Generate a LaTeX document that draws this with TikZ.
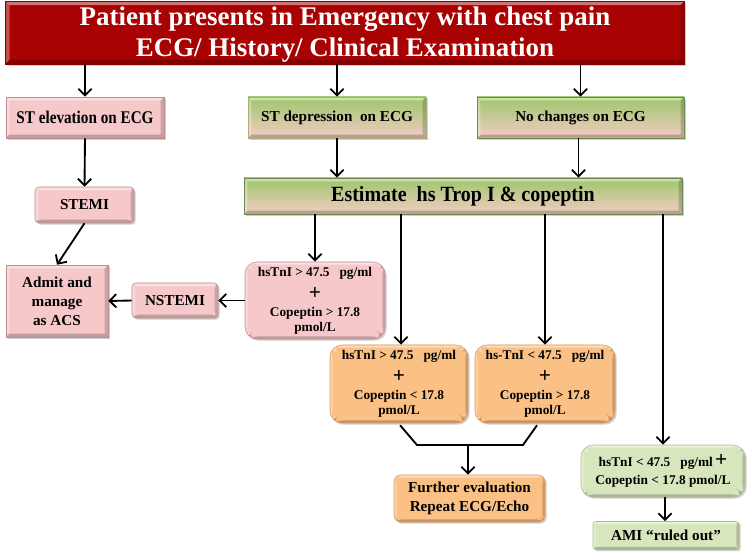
\documentclass[tikz,border=0pt]{standalone}
\usepackage{fontspec}
\setmainfont{Liberation Serif}
\newfontfamily\myNarrowA[FakeStretch=0.85]{Liberation Serif}
\newfontfamily\myNarrowB[FakeStretch=0.92]{Liberation Serif}
\usetikzlibrary{arrows.meta,shadows}
\definecolor{titlered}{RGB}{168,2,2}
\definecolor{pinkf}{RGB}{246,200,202}
\definecolor{pinkdark}{RGB}{190,140,142}
\definecolor{greent}{RGB}{158,198,108}
\definecolor{greenmid}{RGB}{205,212,160}
\definecolor{greenb}{RGB}{244,204,196}
\definecolor{orangef}{RGB}{250,192,132}
\definecolor{orangedark}{RGB}{222,150,86}
\definecolor{lgreen}{RGB}{216,230,190}
\definecolor{lgreendark}{RGB}{170,190,140}
\newcommand\myBoxFont{\fontsize{11.4}{14.2}\selectfont\bfseries}
\newcommand\myLabFont{\fontsize{10}{12.5}\selectfont\bfseries}
\newcommand\myPlus{{\fontsize{16}{16}\selectfont +}}
\newcommand\myGap{\hspace{0.75em}}
\newlength\myBevW
\tikzset{
  sz/.style 2 args={minimum width=#1*0.75pt, minimum height=#2*0.75pt},
  bevelw/.code={\pgfmathsetlength{\myBevW}{#1}\global\myBevW=\myBevW},
  bevelpic/.style={path picture={
    \fill[white,opacity=.45] (path picture bounding box.north west) -- (path picture bounding box.north east)
      -- ([xshift=-\myBevW,yshift=-\myBevW]path picture bounding box.north east) -- ([xshift=\myBevW,yshift=-\myBevW]path picture bounding box.north west) -- cycle;
    \fill[white,opacity=.30] (path picture bounding box.north west) -- ([xshift=\myBevW,yshift=-\myBevW]path picture bounding box.north west)
      -- ([xshift=\myBevW,yshift=\myBevW]path picture bounding box.south west) -- (path picture bounding box.south west) -- cycle;
    \fill[black,opacity=.22] (path picture bounding box.south west) -- (path picture bounding box.south east)
      -- ([xshift=-\myBevW,yshift=\myBevW]path picture bounding box.south east) -- ([xshift=\myBevW,yshift=\myBevW]path picture bounding box.south west) -- cycle;
    \fill[black,opacity=.18] (path picture bounding box.north east) -- (path picture bounding box.south east)
      -- ([xshift=-\myBevW,yshift=\myBevW]path picture bounding box.south east) -- ([xshift=-\myBevW,yshift=-\myBevW]path picture bounding box.north east) -- cycle;
  }},
  bevel/.style={bevelw=#1, bevelpic},
  bevel/.default=2.6pt,
  base/.style={align=center, inner sep=1pt, text=black,
    drop shadow={shadow xshift=1.3pt, shadow yshift=-1.3pt, opacity=.38}},
  titlebox/.style={base, fill=titlered, draw=titlered!80!black, text=white, bevel=3pt,
    font=\fontsize{20.2}{23.3}\selectfont\bfseries},
  pinkbox/.style={base, fill=pinkf, draw=pinkdark, bevel, font=\myBoxFont},
  pinkround/.style={pinkbox, rounded corners=3pt},
  greenbox/.style={base, top color=greent, middle color=greenmid, bottom color=greenb,
    draw=greent!70!black, bevel, font=\myBoxFont},
  depbox/.style={base, top color=greent, middle color=greenb!75!greent, bottom color=greenb,
    draw=greent!60!pinkdark, bevel, font=\myBoxFont},
  valbox/.style={base, fill=pinkf, draw=pinkdark, rounded corners=9pt, bevel=2pt, font=\myLabFont},
  orbox/.style={base, fill=orangef, draw=orangedark, rounded corners=9pt, bevel=2pt, font=\myLabFont},
  furbox/.style={base, fill=orangef, draw=orangedark, rounded corners=5pt, bevel=2pt, font=\myBoxFont},
  lgbox/.style={base, fill=lgreen, draw=lgreendark, rounded corners=9pt, bevel=2pt, font=\myLabFont},
  amibox/.style={base, fill=lgreen, draw=lgreendark, rounded corners=2pt, bevel=2pt, font=\myBoxFont},
  arr/.style={line width=1.4pt, -{Straight Barb[length=5pt,width=10pt,line width=1.4pt]}},
  ln/.style={line width=1.4pt}
}
\begin{document}
\begin{tikzpicture}[x=0.75pt,y=-0.75pt]
\useasboundingbox (0,0) rectangle (749,555);
\fill[white] (0,0) rectangle (749,555);

\node[titlebox, sz={679}{59}] (title) at (345,32.5) {\rule{0pt}{17.5pt}Patient presents in Emergency with chest pain\\ECG/ History/ Clinical Examination};

\node[pinkbox, sz={158}{41}, font=\myNarrowA\fontsize{13.4}{16}\selectfont\bfseries] (ste) at (85,117.5) {ST elevation on ECG};
\node[depbox, sz={178}{41}] (std) at (337,117.5) {ST depression~ on ECG};
\node[greenbox, sz={207}{41}] (nch) at (580.5,117.5) {No changes on ECG};

\node[pinkround, sz={99}{36}] (stemi) at (84.5,205) {STEMI};
\node[greenbox, sz={438}{36}, font=\myNarrowB\fontsize{16.3}{19}\selectfont\bfseries] (est) at (463,196) {Estimate~ hs Trop I \& copeptin};

\node[pinkbox, sz={102}{72}] (admit) at (57,301) {Admit and\\manage\\as ACS};
\node[pinkround, sz={86}{35}] (nstemi) at (175,300.5) {NSTEMI};
\node[valbox, sz={140}{77}] (hs1) at (315,300.5) {hsTnI > 47.5\myGap pg/ml\\[4.75pt]\myPlus\\[0.5pt]Copeptin > 17.8\\[-1.25pt]pmol/L};

\node[orbox, sz={138}{78}] (or1) at (399,384) {hsTnI > 47.5\myGap pg/ml\\[4.75pt]\myPlus\\[0.5pt]Copeptin < 17.8\\[-1.25pt]pmol/L};
\node[orbox, sz={140}{78}] (or2) at (545,384) {hs-TnI < 47.5\myGap pg/ml\\[4.75pt]\myPlus\\[0.5pt]Copeptin > 17.8\\[-1.25pt]pmol/L};

\node[furbox, sz={151}{47}] (fur) at (469.5,498.5) {Further evaluation\\Repeat ECG/Echo};
\node[lgbox, sz={164}{52}] (lg) at (663,471) {hsTnI < 47.5\myGap pg/ml\,\myPlus\\[1pt]Copeptin < 17.8 pmol/L};
\node[amibox, sz={146}{28}] (ami) at (666,535.5) {AMI “ruled out”};

% arrows
\draw[arr] (title.south -| ste.north) -- (ste.north);
\draw[arr] (title.south -| std.north) -- (std.north);
\draw[arr] (title.south -| nch.north) -- (nch.north);
\draw[arr] (ste.south) -- (stemi.north);
\draw[arr] (std.south) -- (std.south |- est.north);
\draw[arr] ([xshift=-1.5pt]nch.south) -- ([xshift=-1.5pt]nch.south |- est.north);
\draw[arr] (stemi.south) -- (admit.north);
\draw[arr] (est.south -| hs1.north) -- (hs1.north);
\draw[arr] ([xshift=1.5pt]est.south -| or1.north) -- ([xshift=1.5pt]or1.north);
\draw[arr] (est.south -| or2.north) -- (or2.north);
\draw[arr] (est.south -| lg.north) -- (lg.north);
\draw[arr] (hs1.west) -- (nstemi.east);
\draw[arr] (nstemi.west) -- (admit.east);
\coordinate (jl) at (417,445);
\coordinate (jr) at (523,445);
\coordinate (jm) at (468,445);
\draw[ln, line join=miter] ([xshift=0.8pt,yshift=-1.5pt]or1.south) -- (jl) -- (jr) -- ([xshift=-6pt,yshift=-1.5pt]or2.south);
\draw[arr] (jm) -- (jm |- fur.north);
\draw[arr] ([xshift=1.5pt]lg.south) -- ([xshift=1.5pt]lg.south |- ami.north);
\end{tikzpicture}
\end{document}
